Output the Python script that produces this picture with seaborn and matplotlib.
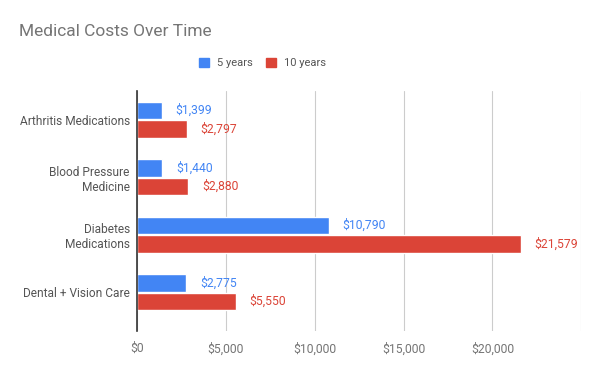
import pandas as pd
import matplotlib.pyplot as plt
import seaborn as sns

# Values
categories = ['Arthritis Medications', 'Blood Pressure\nMedicine', 'Diabetes\nMedications', 'Dental + Vision Care']
five_years = [1399, 1440, 10790, 2775]
ten_years = [2797, 2880, 21579, 5550]
series = ['5 years', '10 years']
colors = ['#4285F4', '#DB4437']

df = pd.DataFrame({'category': categories * 2,
                   'cost': five_years + ten_years,
                   'period': [series[0]] * 4 + [series[1]] * 4})

sns.set_style('white')
plt.rcParams['font.family'] = ['Roboto', 'DejaVu Sans']

fig = plt.figure(figsize=(6, 3.71), dpi=100)
ax = fig.add_axes([0.228, 0.108, 0.741, 0.647])
sns.barplot(data=df, y='category', x='cost', hue='period', palette=colors, saturation=1,
            orient='h', width=0.64, gap=0.05, ax=ax, legend=False)

# value labels next to each bar
for cont, col in zip(ax.containers, colors):
    ax.bar_label(cont, labels=['${:,.0f}'.format(v) for v in cont.datavalues],
                 padding=10, color=col, fontsize=8.7)

ax.set_xlim(0, 25000)
ax.set_ylim(3.67, -0.5)  # google-style extra room under the last group
ax.set_xticks([0, 5000, 10000, 15000, 20000, 25000])
ax.set_xticklabels(['$0', '$5,000', '$10,000', '$15,000', '$20,000', ''])
ax.tick_params(axis='x', colors='#757575', labelsize=8.7, length=0, pad=8)
ax.tick_params(axis='y', colors='#555555', labelsize=8.6, length=0, pad=5)
for t in ax.get_yticklabels():
    t.set_horizontalalignment('right')
    t.set_multialignment('right')
ax.grid(axis='x', color='#cccccc', linewidth=0.8)
ax.set_axisbelow(True)
for s in ['top', 'right', 'bottom']:
    ax.spines[s].set_visible(False)
ax.spines['left'].set_color('#333333')
ax.spines['left'].set_linewidth(1.2)
ax.spines['left'].set_zorder(5)
ax.set_xlabel('')
ax.set_ylabel('')

fig.text(0.032, 0.915, 'Medical Costs Over Time', fontsize=12.5, color='#757575', va='center')

# legend
handles = [plt.Rectangle((0, 0), 1, 1, color=c) for c in colors]
fig.legend(handles, series, loc='center', bbox_to_anchor=(0.437, 0.830), ncol=2, frameon=False,
           fontsize=8, labelcolor='#555555', handlelength=0.9, handleheight=0.9,
           columnspacing=1.2, handletextpad=0.7)

fig.savefig('out.png', dpi=100)
